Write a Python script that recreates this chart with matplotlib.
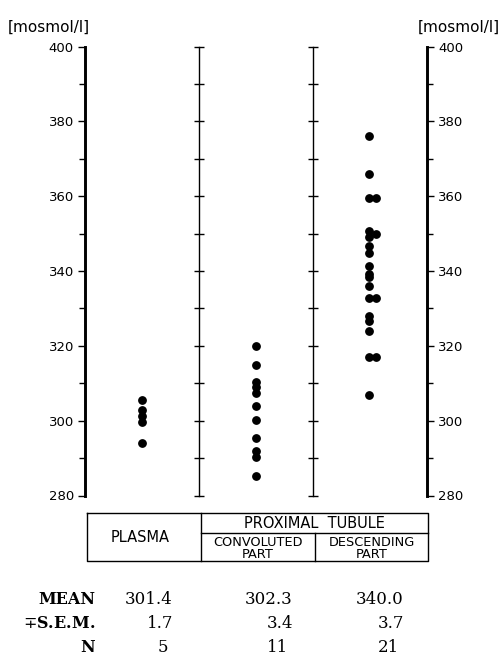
import matplotlib
matplotlib.use('Agg')
import matplotlib.pyplot as plt
import numpy as np

# ---------------- data ----------------
plasma = [305.5, 302.8, 301.2, 299.6, 294.0]
convoluted = [320.0, 315.0, 310.4, 309.0, 307.4, 304.0, 300.2, 295.3, 292.0, 290.2, 285.1]
descending_main = [376.0, 365.9, 359.6, 350.8, 349.0, 346.8, 344.8, 341.4, 339.2,
                   338.3, 335.9, 332.9, 328.0, 326.7, 324.0, 316.9, 306.9]
descending_side = [359.6, 349.9, 332.9, 316.9]

mean_labels = ['301.4', '302.3', '340.0']
sem_labels = ['1.7', '3.4', '3.7']
n_labels = ['5', '11', '21']
row_labels = ['MEAN', r'$\mp$S.E.M.', 'N']

major_ticks = [280, 300, 320, 340, 360, 380, 400]
minor_ticks = [290, 310, 330, 350, 370, 390]
divider_ticks = list(range(280, 401, 10))
unit = '[mosmol/l]'

# ---------------- figure ----------------
W, H = 502, 661
fig = plt.figure(figsize=(W / 100, H / 100), dpi=100)
fig.patch.set_facecolor('white')

ax_l, ax_r, ax_t, ax_b = 85, 427, 46.5, 495.5
ax = fig.add_axes([ax_l / W, 1 - ax_b / H, (ax_r - ax_l) / W, (ax_b - ax_t) / H])
ax.set_xlim(0, 3)
ax.set_ylim(280, 400)

for s in ['top', 'bottom']:
    ax.spines[s].set_visible(False)
for s in ['left', 'right']:
    ax.spines[s].set_linewidth(2.1)
ax.set_xticks([])

sans = 'DejaVu Sans'
ax.set_yticks(major_ticks)
ax.set_yticks(minor_ticks, minor=True)
ax.set_yticklabels([str(t) for t in major_ticks], fontsize=9.5, family=sans)
ax.tick_params(axis='y', which='both', left=True, right=True, labelleft=True,
               labelright=True, direction='out', width=1.0, pad=3)
ax.tick_params(axis='y', which='major', length=5)
ax.tick_params(axis='y', which='minor', length=4.5)

# divider lines with cross ticks
for xd in [1, 2]:
    ax.plot([xd, xd], [280, 400], color='black', lw=1.0, clip_on=False)
    ax.plot([xd] * len(divider_ticks), divider_ticks, ls='none', marker='_',
            ms=6.5, mew=1.0, color='black', clip_on=False)

# data points
ms = 5.3
ax.plot([0.5] * len(plasma), plasma, 'o', color='black', ms=ms)
ax.plot([1.5] * len(convoluted), convoluted, 'o', color='black', ms=ms)
ax.plot([2.49] * len(descending_main), descending_main, 'o', color='black', ms=ms)
ax.plot([2.555] * len(descending_side), descending_side, 'o', color='black', ms=ms)

# ---------------- overlay for text and table ----------------
ov = fig.add_axes([0, 0, 1, 1])
ov.set_xlim(0, W)
ov.set_ylim(H, 0)
ov.axis('off')

ov.text(49, 27.5, unit, fontsize=11, family=sans, ha='center', va='center')
ov.text(459, 27.5, unit, fontsize=11, family=sans, ha='center', va='center')

# table box
lw = 1.0
tb_l, tb_r, tb_t, tb_b, tb_m = 86.7, 428, 512.7, 561, 532.7
d1, d2 = 200.7, 315
ov.plot([tb_l, tb_r, tb_r, tb_l, tb_l], [tb_t, tb_t, tb_b, tb_b, tb_t], color='black', lw=lw)
ov.plot([d1, d1], [tb_t, tb_b], color='black', lw=lw)
ov.plot([d1, tb_r], [tb_m, tb_m], color='black', lw=lw)
ov.plot([d2, d2], [tb_m, tb_b], color='black', lw=lw)

ov.text((tb_l + d1) / 2 - 4, 537.5, 'PLASMA', fontsize=10.5, family=sans, ha='center', va='center')
ov.text((d1 + tb_r) / 2, 523, 'PROXIMAL  TUBULE', fontsize=10.5, family=sans, ha='center', va='center')
ov.text((d1 + d2) / 2, 542.5, 'CONVOLUTED', fontsize=9.3, family=sans, ha='center', va='center')
ov.text((d1 + d2) / 2, 554, 'PART', fontsize=9.3, family=sans, ha='center', va='center')
ov.text((d2 + tb_r) / 2, 542.5, 'DESCENDING', fontsize=9.3, family=sans, ha='center', va='center')
ov.text((d2 + tb_r) / 2, 554, 'PART', fontsize=9.3, family=sans, ha='center', va='center')

# stats rows
plt.rcParams['mathtext.fontset'] = 'dejavuserif'
serif = 'DejaVu Serif'
row_y = [599, 623, 647]
col_right = [173, 293, 404]
for lab, y in zip(row_labels, row_y):
    ov.text(95, y, lab, fontsize=11.5, family=serif, weight='bold', ha='right', va='center')
for vals, y, off in [(mean_labels, row_y[0], 0), (sem_labels, row_y[1], 0), (n_labels, row_y[2], 5)]:
    for v, xr in zip(vals, col_right):
        ov.text(xr - off, y, v, fontsize=12, family=serif, ha='right', va='center')

fig.savefig('out.png', dpi=100, facecolor='white')
